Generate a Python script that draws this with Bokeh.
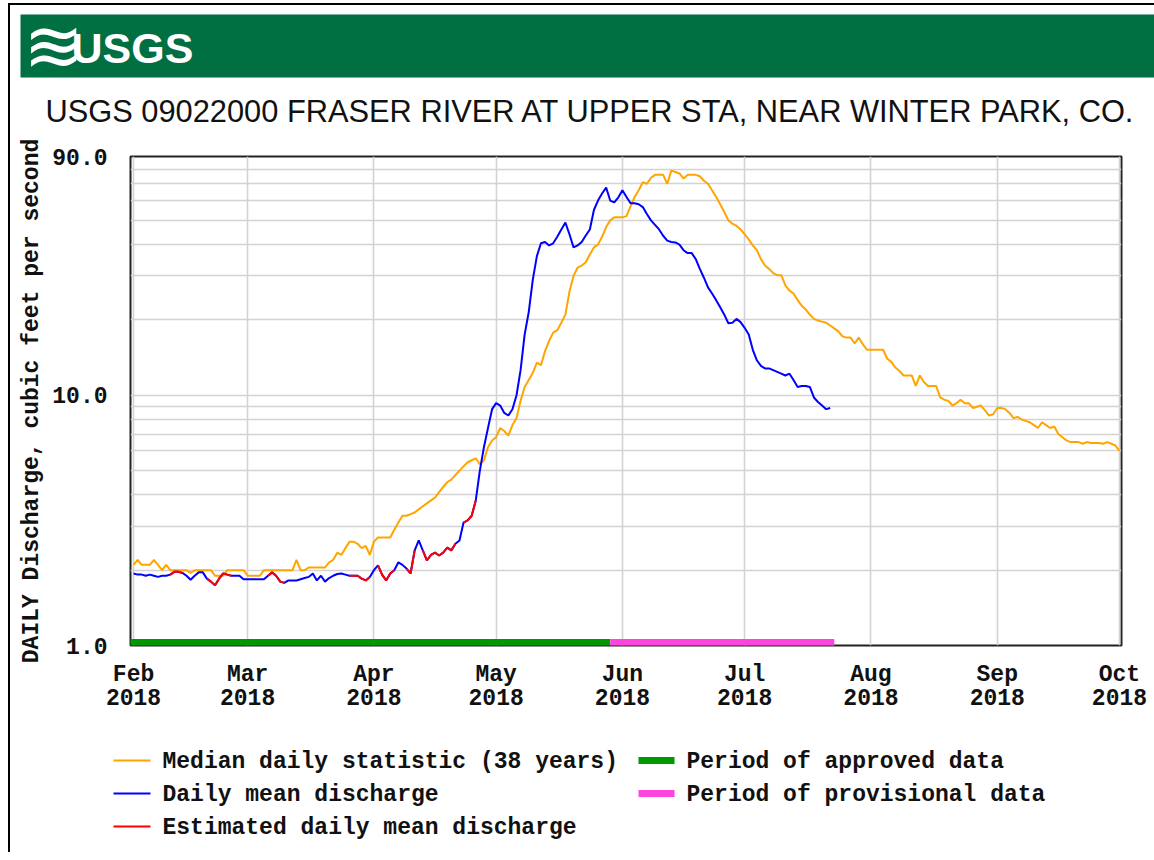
import datetime as dt
import numpy as np
import pandas as pd
from bokeh.plotting import figure
from bokeh.models import Range1d, FixedTicker
from bokeh.layouts import column
from bokeh.embed import file_html
from bokeh.resources import INLINE
from bokeh.core.properties import value

# ---------------- data ----------------
station_title = "USGS 09022000 FRASER RIVER AT UPPER STA, NEAR WINTER PARK, CO."
y_axis_title = "DAILY Discharge, cubic feet per second"
start_date = "2018-02-01"

# Median daily statistic (38 years), Feb 1 .. Oct 1 2018 (cfs)
median_q = [
    2.1, 2.2, 2.1, 2.1, 2.1, 2.2, 2.1, 2.0, 2.1, 2.0,
    2.0, 2.0, 2.0, 2.0, 1.95, 2.0, 2.0, 2.0, 2.0, 2.0,
    1.9, 1.9, 1.9, 2.0, 2.0, 2.0, 2.0, 2.0, 1.9, 1.9,
    1.9, 1.9, 2.0, 2.0, 2.0, 2.0, 2.0, 2.0, 2.0, 2.0,
    2.2, 2.0, 2.0, 2.05, 2.05, 2.05, 2.05, 2.05, 2.15, 2.2,
    2.35, 2.3, 2.45, 2.6, 2.6, 2.55, 2.45, 2.5, 2.3, 2.6,
    2.7, 2.7, 2.7, 2.7, 2.9, 3.1, 3.3, 3.3, 3.35, 3.4,
    3.5, 3.6, 3.7, 3.8, 3.9, 4.1, 4.3, 4.5, 4.6, 4.8,
    5.0, 5.2, 5.4, 5.5, 5.6, 5.3, 5.5, 6.2, 6.6, 6.8,
    7.4, 7.2, 6.9, 7.6, 8.1, 9.5, 10.8, 11.5, 12.3, 13.5,
    13.2, 15.0, 16.5, 17.8, 18.2, 19.5, 21.0, 26.0, 30.0, 32.4,
    33.0, 34.0, 36.5, 39.0, 40.0, 43.0, 47.0, 50.0, 51.4, 51.4,
    51.4, 52.0, 57.0, 62.0, 66.0, 71.0, 70.0, 74.0, 76.0, 76.0,
    76.0, 70.0, 79.0, 78.0, 77.0, 73.5, 76.0, 76.0, 76.0, 75.0,
    72.0, 70.0, 66.0, 62.0, 58.0, 54.0, 50.0, 48.5, 47.5, 46.0,
    44.0, 42.0, 39.7, 38.0, 35.0, 33.0, 32.0, 30.8, 30.2, 30.2,
    27.5, 26.2, 25.5, 24.0, 22.8, 22.0, 21.0, 20.2, 19.9, 19.7,
    19.5, 19.0, 18.5, 18.0, 17.2, 17.0, 17.0, 16.1, 17.0, 16.0,
    15.2, 15.2, 15.2, 15.2, 15.2, 14.0, 13.6, 12.9, 12.5, 12.0,
    12.0, 12.0, 10.9, 12.0, 11.3, 10.9, 10.9, 10.9, 9.8, 9.6,
    9.5, 9.1, 9.3, 9.6, 9.3, 9.3, 8.9, 9.0, 9.1, 8.7,
    8.3, 8.4, 8.9, 8.9, 8.8, 8.5, 8.1, 8.2, 8.0, 7.9,
    7.8, 7.6, 7.4, 7.8, 7.6, 7.4, 7.5, 7.0, 6.8, 6.6,
    6.5, 6.5, 6.5, 6.4, 6.5, 6.45, 6.45, 6.45, 6.4, 6.5,
    6.4, 6.3, 6.0,
]

# Daily mean discharge, Feb 1 .. Jul 22 2018 (cfs)
daily_q = [
    1.94, 1.92, 1.92, 1.9, 1.92, 1.9, 1.88, 1.9, 1.9, 1.92,
    1.97, 1.97, 1.95, 1.9, 1.83, 1.9, 1.96, 1.96, 1.85, 1.8,
    1.74, 1.85, 1.94, 1.92, 1.9, 1.9, 1.9, 1.84, 1.84, 1.84,
    1.84, 1.84, 1.84, 1.9, 1.96, 1.9, 1.8, 1.78, 1.82, 1.82,
    1.82, 1.84, 1.86, 1.88, 1.94, 1.82, 1.9, 1.8, 1.86, 1.9,
    1.93, 1.94, 1.92, 1.9, 1.9, 1.9, 1.85, 1.82, 1.88, 2.0,
    2.09, 1.92, 1.82, 1.94, 2.0, 2.15, 2.1, 2.03, 1.94, 2.4,
    2.63, 2.4, 2.19, 2.3, 2.35, 2.29, 2.35, 2.46, 2.4, 2.55,
    2.63, 3.1, 3.16, 3.3, 3.8, 5.0, 6.2, 7.4, 8.8, 9.3,
    9.1, 8.5, 8.3, 8.8, 10.0, 12.6, 17.5, 21.5, 29.0, 36.0,
    40.5, 41.0, 39.7, 40.5, 43.0, 46.0, 49.0, 44.0, 39.0, 39.7,
    41.0, 43.5, 46.0, 55.0, 60.0, 64.0, 67.6, 60.0, 59.0, 61.8,
    66.0, 62.0, 58.5, 58.5, 58.0, 56.5, 53.0, 50.0, 48.0, 46.0,
    43.4, 41.5, 41.0, 40.8, 40.0, 38.0, 37.0, 37.0, 35.0, 32.0,
    29.5, 27.0, 25.5, 24.0, 22.5, 21.0, 19.4, 19.5, 20.2, 19.6,
    18.6, 17.5, 15.2, 13.8, 13.1, 12.8, 12.8, 12.6, 12.4, 12.2,
    12.0, 12.2, 11.5, 10.8, 10.9, 10.9, 10.8, 9.8, 9.4, 9.1,
    8.8, 8.9,
]

# Periods of estimated daily mean discharge (inclusive)
est_start = ["2018-02-10", "2018-02-19", "2018-03-06", "2018-03-26", "2018-04-02",
             "2018-04-09", "2018-04-13", "2018-04-23"]
est_end = ["2018-02-13", "2018-02-25", "2018-03-10", "2018-03-31", "2018-04-06",
           "2018-04-11", "2018-04-21", "2018-04-26"]

approved_period = ["2018-02-01", "2018-05-29"]
provisional_period = ["2018-05-29", "2018-07-23"]

month_ticks = ["2018-02-01", "2018-03-01", "2018-04-01", "2018-05-01", "2018-06-01",
               "2018-07-01", "2018-08-01", "2018-09-01", "2018-10-01"]
month_labels = ["Feb\n2018", "Mar\n2018", "Apr\n2018", "May\n2018", "Jun\n2018",
                "Jul\n2018", "Aug\n2018", "Sep\n2018", "Oct\n2018"]
y_ticks = [1, 10, 90]
y_tick_labels = ["1.0", "10.0", "90.0"]
y_grid = [2, 3, 4, 5, 6, 7, 8, 9, 10, 20, 30, 40, 50, 60, 70, 80, 90]

legend_left = ["Median daily statistic (38 years)", "Daily mean discharge",
               "Estimated daily mean discharge"]
legend_right = ["Period of approved data", "Period of provisional data"]

# ---------------- style ----------------
ORANGE = "#FFA500"
BLUE = "#0000FF"
RED = "#FF0000"
GREEN = "#009900"
PINK = "#FF44DD"
USGS_GREEN = "#006F41"
GRID = "#D3D3D3"
MONO = "Liberation Mono"
SANS = "Liberation Sans"

W = 1144
X0, Y0 = 10, 5          # page position of the layout's content box
H_HDR, H_MAIN, H_LEG = 125, 592, 130

# ---------------- header ----------------
hdr = figure(width=W, height=H_HDR, x_range=Range1d(X0, X0 + W),
             y_range=Range1d(Y0 + H_HDR, Y0),
             output_backend="svg", toolbar_location=None, min_border=0, frame_align=False,
             x_axis_location=None, y_axis_location=None, outline_line_color=None)
hdr.grid.visible = False
hdr.quad(left=20, right=1154, top=14, bottom=77, fill_color=USGS_GREEN, line_color=None)
hdr.text(x=[23], y=[45], text=["\u224B"], text_color="white", text_font=value("DejaVu Sans"),
         text_font_size="72px", text_baseline="middle", text_align="left")
hdr.text(x=[71], y=[47], text=["USGS"], text_color="white", text_font=value(SANS),
         text_font_style="bold", text_font_size="43px", text_baseline="middle")
hdr.text(x=[45], y=[111], text=[station_title], text_color="#111111", text_font=value(SANS),
         text_font_size="30.8px", text_baseline="middle")

# ---------------- main plot ----------------
days_median = pd.date_range(start_date, periods=len(median_q), freq="D")
days_daily = pd.date_range(start_date, periods=len(daily_q), freq="D")
tick_ms = [float(pd.Timestamp(t).value // 10**6) for t in month_ticks]

p = figure(width=W, height=H_MAIN, x_axis_type="datetime", y_axis_type="log",
           x_range=Range1d(dt.datetime(2018, 1, 31, 6), dt.datetime(2018, 10, 1, 12)),
           y_range=Range1d(y_ticks[0], y_ticks[-1]),
           output_backend="svg", toolbar_location=None, frame_align=False,
           min_border_left=120, min_border_right=33, min_border_top=26, min_border_bottom=77,
           outline_line_color="#222222", outline_line_width=2)

p.xgrid.ticker = FixedTicker(ticks=tick_ms)
p.ygrid.ticker = FixedTicker(ticks=y_grid)
p.grid.grid_line_color = GRID
p.grid.grid_line_width = 1.6

p.xaxis.ticker = FixedTicker(ticks=tick_ms)
p.xaxis.major_label_overrides = {k: v for k, v in zip(tick_ms, month_labels)}
p.yaxis.ticker = FixedTicker(ticks=y_ticks)
p.yaxis.major_label_overrides = {k: v for k, v in zip(y_ticks, y_tick_labels)}

for ax in (p.xaxis, p.yaxis):
    ax.axis_line_color = None
    ax.major_tick_line_color = None
    ax.minor_tick_line_color = None
    ax.major_label_text_font = MONO
    ax.major_label_text_font_style = "bold"
    ax.major_label_text_font_size = "23px"
    ax.major_label_text_color = "#111111"
p.xaxis.major_label_standoff = 10
p.xaxis.major_label_text_line_height = 0.96
p.yaxis.major_label_standoff = 17
p.yaxis.axis_label = y_axis_title
p.yaxis.axis_label_text_font = MONO
p.yaxis.axis_label_text_font_style = "bold"
p.yaxis.axis_label_text_font_size = "23px"
p.yaxis.axis_label_text_color = "#111111"
p.yaxis.axis_label_standoff = 4

p.line(days_median, median_q, line_color=ORANGE, line_width=2)
p.line(days_daily, daily_q, line_color=BLUE, line_width=2)
dq = np.array(daily_q)
for s, e in zip(est_start, est_end):
    m = (days_daily >= pd.Timestamp(s)) & (days_daily <= pd.Timestamp(e))
    p.line(days_daily[m], dq[m], line_color=RED, line_width=2)

y_floor = y_ticks[0]
p.line([pd.Timestamp(approved_period[0]) - pd.Timedelta(days=1), pd.Timestamp(approved_period[1])],
       [y_floor, y_floor], line_color=GREEN, line_width=13, line_cap="butt")
p.line([pd.Timestamp(provisional_period[0]), pd.Timestamp(provisional_period[1])],
       [y_floor, y_floor], line_color=PINK, line_width=13, line_cap="butt")

# ---------------- legend ----------------
LY0 = Y0 + H_HDR + H_MAIN
leg = figure(width=W, height=H_LEG, x_range=Range1d(X0, X0 + W),
             y_range=Range1d(LY0 + H_LEG, LY0),
             output_backend="svg", toolbar_location=None, min_border=0, frame_align=False,
             x_axis_location=None, y_axis_location=None, outline_line_color=None)
leg.grid.visible = False
rows = [760, 793, 826]
for yy, c in zip(rows, [ORANGE, BLUE, RED]):
    leg.line([113, 150], [yy, yy], line_color=c, line_width=2)
leg.text(x=[162] * 3, y=[r + 1 for r in rows], text=legend_left, text_font=value(MONO),
         text_font_style="bold", text_font_size="23px", text_baseline="middle",
         text_color="#111111")
for yy, c in zip(rows[:2], [GREEN, PINK]):
    leg.line([638, 674], [yy, yy], line_color=c, line_width=7)
leg.text(x=[686] * 2, y=[r + 1 for r in rows[:2]], text=legend_right, text_font=value(MONO),
         text_font_style="bold", text_font_size="23px", text_baseline="middle",
         text_color="#111111")

layout = column(hdr, p, leg, spacing=0,
                styles={"margin-left": "8px", "margin-top": "3px",
                        "border-left": "2px solid #000", "border-top": "2px solid #000"})

open("out.html", "w").write(file_html(layout, INLINE))
